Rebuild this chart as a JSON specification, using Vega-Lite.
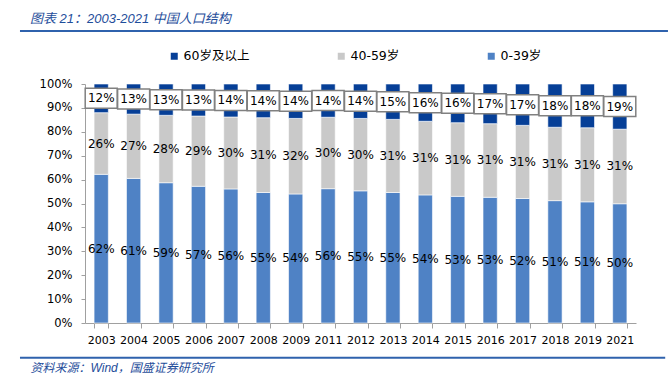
{
  "$schema": "https://vega.github.io/schema/vega-lite/v6.json",
  "width": 551,
  "height": 239,
  "autosize": {"type": "none"},
  "padding": {"left": 85, "top": 84, "right": 32, "bottom": 55},
  "background": "white",
  "config": {
    "view": {"stroke": null},
    "font": "DejaVu Sans, Noto Sans CJK SC"
  },
  "title": {
    "text": "图表 21：2003-2021 中国人口结构",
    "anchor": "start",
    "frame": "group",
    "dx": -55,
    "fontSize": 13,
    "fontStyle": "italic",
    "fontWeight": "normal",
    "color": "#1f4e9b",
    "font": "Liberation Sans, Noto Sans CJK SC",
    "baseline": "alphabetic",
    "offset": -6
  },
  "data": {
    "values": [
      {"year": "2003", "g": "0-39岁", "o": 1, "v": 0.622},
      {"year": "2003", "g": "40-59岁", "o": 2, "v": 0.258},
      {"year": "2003", "g": "60岁及以上", "o": 3, "v": 0.120},
      {"year": "2004", "g": "0-39岁", "o": 1, "v": 0.605},
      {"year": "2004", "g": "40-59岁", "o": 2, "v": 0.269},
      {"year": "2004", "g": "60岁及以上", "o": 3, "v": 0.126},
      {"year": "2005", "g": "0-39岁", "o": 1, "v": 0.587},
      {"year": "2005", "g": "40-59岁", "o": 2, "v": 0.282},
      {"year": "2005", "g": "60岁及以上", "o": 3, "v": 0.131},
      {"year": "2006", "g": "0-39岁", "o": 1, "v": 0.572},
      {"year": "2006", "g": "40-59岁", "o": 2, "v": 0.294},
      {"year": "2006", "g": "60岁及以上", "o": 3, "v": 0.134},
      {"year": "2007", "g": "0-39岁", "o": 1, "v": 0.561},
      {"year": "2007", "g": "40-59岁", "o": 2, "v": 0.301},
      {"year": "2007", "g": "60岁及以上", "o": 3, "v": 0.138},
      {"year": "2008", "g": "0-39岁", "o": 1, "v": 0.546},
      {"year": "2008", "g": "40-59岁", "o": 2, "v": 0.313},
      {"year": "2008", "g": "60岁及以上", "o": 3, "v": 0.141},
      {"year": "2009", "g": "0-39岁", "o": 1, "v": 0.540},
      {"year": "2009", "g": "40-59岁", "o": 2, "v": 0.316},
      {"year": "2009", "g": "60岁及以上", "o": 3, "v": 0.144},
      {"year": "2011", "g": "0-39岁", "o": 1, "v": 0.562},
      {"year": "2011", "g": "40-59岁", "o": 2, "v": 0.299},
      {"year": "2011", "g": "60岁及以上", "o": 3, "v": 0.139},
      {"year": "2012", "g": "0-39岁", "o": 1, "v": 0.553},
      {"year": "2012", "g": "40-59岁", "o": 2, "v": 0.303},
      {"year": "2012", "g": "60岁及以上", "o": 3, "v": 0.144},
      {"year": "2013", "g": "0-39岁", "o": 1, "v": 0.546},
      {"year": "2013", "g": "40-59岁", "o": 2, "v": 0.306},
      {"year": "2013", "g": "60岁及以上", "o": 3, "v": 0.148},
      {"year": "2014", "g": "0-39岁", "o": 1, "v": 0.536},
      {"year": "2014", "g": "40-59岁", "o": 2, "v": 0.308},
      {"year": "2014", "g": "60岁及以上", "o": 3, "v": 0.156},
      {"year": "2015", "g": "0-39岁", "o": 1, "v": 0.530},
      {"year": "2015", "g": "40-59岁", "o": 2, "v": 0.308},
      {"year": "2015", "g": "60岁及以上", "o": 3, "v": 0.162},
      {"year": "2016", "g": "0-39岁", "o": 1, "v": 0.526},
      {"year": "2016", "g": "40-59岁", "o": 2, "v": 0.308},
      {"year": "2016", "g": "60岁及以上", "o": 3, "v": 0.166},
      {"year": "2017", "g": "0-39岁", "o": 1, "v": 0.521},
      {"year": "2017", "g": "40-59岁", "o": 2, "v": 0.306},
      {"year": "2017", "g": "60岁及以上", "o": 3, "v": 0.173},
      {"year": "2018", "g": "0-39岁", "o": 1, "v": 0.512},
      {"year": "2018", "g": "40-59岁", "o": 2, "v": 0.307},
      {"year": "2018", "g": "60岁及以上", "o": 3, "v": 0.181},
      {"year": "2019", "g": "0-39岁", "o": 1, "v": 0.507},
      {"year": "2019", "g": "40-59岁", "o": 2, "v": 0.310},
      {"year": "2019", "g": "60岁及以上", "o": 3, "v": 0.183},
      {"year": "2021", "g": "0-39岁", "o": 1, "v": 0.499},
      {"year": "2021", "g": "40-59岁", "o": 2, "v": 0.312},
      {"year": "2021", "g": "60岁及以上", "o": 3, "v": 0.189}
    ]
  },
  "layer": [
    {
      "transform": [
        {"stack": "v", "groupby": ["year"], "sort": [{"field": "o", "order": "ascending"}], "as": ["v0", "v1"]},
        {"calculate": "(datum.v0 + datum.v1) / 2", "as": "mid"}
      ],
      "layer": [
        {
          "mark": {"type": "bar", "stroke": "white", "strokeWidth": 0.6},
          "encoding": {
            "x": {
              "field": "year",
              "type": "nominal",
              "scale": {"paddingInner": 0.56, "paddingOuter": 0.28},
              "axis": {
                "labelAngle": 0,
                "tickBand": "extent",
                "tickSize": 5,
                "labelPadding": 6,
                "labelFontSize": 11,
                "labelColor": "#000000",
                "labelOverlap": false,
                "domainColor": "#a0a0a0",
                "tickColor": "#a0a0a0",
                "title": "资料来源：Wind，国盛证券研究所",
                "titleAnchor": "start",
                "titleAlign": "left",
                "titleBaseline": "middle",
                "titleX": -55,
                "titleY": 44,
                "titleFontSize": 12,
                "titleFontStyle": "italic",
                "titleFontWeight": "normal",
                "titleColor": "#1f4e9b",
                "titleFont": "Liberation Sans, Noto Sans CJK SC"
              }
            },
            "y": {
              "field": "v0",
              "type": "quantitative",
              "scale": {"domain": [0, 1], "nice": false},
              "axis": {
                "tickCount": 10,
                "format": ".0%",
                "grid": false,
                "tickSize": 4,
                "labelPadding": 9,
                "labelFontSize": 11.5,
                "labelColor": "#000000",
                "labelOverlap": false,
                "labelSeparation": 0,
                "labelBound": false,
                "domainColor": "#a0a0a0",
                "tickColor": "#a0a0a0",
                "title": null
              }
            },
            "y2": {"field": "v1"},
            "color": {
              "field": "g",
              "type": "nominal",
              "scale": {
                "domain": ["60岁及以上", "40-59岁", "0-39岁"],
                "range": ["#063f97", "#c9c9c9", "#4f82c5"]
              },
              "legend": {
                "title": null,
                "orient": "none",
                "legendX": 83,
                "legendY": -34,
                "direction": "horizontal",
                "symbolType": "square",
                "symbolSize": 49,
                "symbolStrokeWidth": 0,
                "labelFontSize": 12.5,
                "labelColor": "#000000",
                "labelOffset": 3,
                "columnPadding": 85,
                "gridAlign": "none",
                "labelLimit": 200
              }
            }
          }
        },
        {
          "transform": [{"filter": "datum.g === '60岁及以上'"}],
          "mark": {
            "type": "point",
            "shape": "M-1,-0.625H1V0.625H-1Z",
            "size": 1024,
            "filled": true,
            "fill": "white",
            "stroke": "#808080",
            "strokeWidth": 1.5,
            "opacity": 1
          },
          "encoding": {
            "x": {"field": "year", "type": "nominal"},
            "y": {"field": "mid", "type": "quantitative"}
          }
        },
        {
          "mark": {"type": "text", "fontSize": 12, "color": "#000000"},
          "encoding": {
            "x": {"field": "year", "type": "nominal"},
            "y": {"field": "mid", "type": "quantitative"},
            "text": {"field": "v", "type": "quantitative", "format": ".0%"}
          }
        }
      ]
    },
    {
      "data": {"values": [{}]},
      "mark": {"type": "rule", "color": "#2f62ad", "strokeWidth": 2},
      "encoding": {
        "y": {"datum": 1.222, "type": "quantitative"},
        "x": {"datum": -0.118, "type": "quantitative", "scale": {"domain": [0, 1]}, "axis": null},
        "x2": {"datum": 1.058}
      }
    },
    {
      "data": {"values": [{}]},
      "mark": {"type": "rule", "color": "#2f62ad", "strokeWidth": 2},
      "encoding": {
        "y": {"datum": -0.145, "type": "quantitative"},
        "x": {"datum": -0.118, "type": "quantitative", "scale": {"domain": [0, 1]}, "axis": null},
        "x2": {"datum": 1.053}
      }
    }
  ],
  "resolve": {"scale": {"x": "independent"}}
}
